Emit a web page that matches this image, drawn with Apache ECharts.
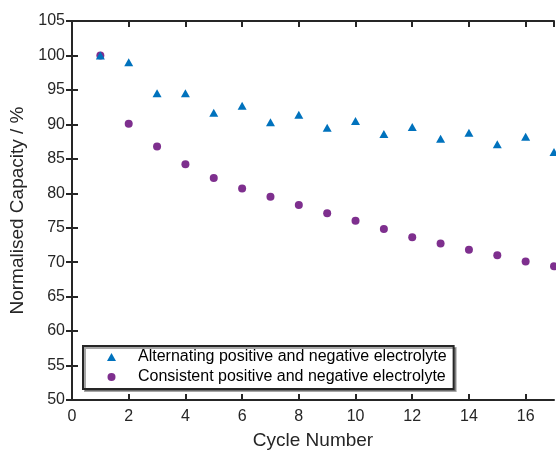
<!DOCTYPE html>
<html>
<head>
<meta charset="utf-8">
<script src="https://cdn.jsdelivr.net/npm/echarts@6/dist/echarts.min.js"></script>
<style>
html,body{margin:0;padding:0;background:#fff;}
#chart{width:556px;height:451px;}
</style>
</head>
<body>
<div id="chart"></div>
<script>
var cycles = [1,2,3,4,5,6,7,8,9,10,11,12,13,14,15,16,17];
var alternating = [100,99.0,94.5,94.5,91.7,92.7,90.3,91.4,89.5,90.5,88.6,89.6,87.9,88.8,87.1,88.2,86.0];
var consistent = [100,90.1,86.8,84.2,82.2,80.7,79.5,78.3,77.1,76.0,74.8,73.6,72.7,71.8,71.0,70.1,69.4];
var seriesNames = ['Alternating positive and negative electrolyte','Consistent positive and negative electrolyte'];
var xTitle = 'Cycle Number';
var yTitle = 'Normalised Capacity / %';

function pairs(xs, ys){ return xs.map(function(x,i){ return [x, ys[i]]; }); }

var axisColor = '#262626';
var font = 'Liberation Sans, Arial, sans-serif';
var chart = echarts.init(document.getElementById('chart'), null, {renderer:'canvas'});
var lineStyle = {color: axisColor, width: 2};
chart.setOption({
  animation: false,
  backgroundColor: '#fff',
  grid: {left: 72, top: 21, width: 482, height: 379, show: false, containLabel: false, outerBoundsMode: 'none'},
  xAxis: [{
    type: 'value', min: 0, max: 17, interval: 2, position: 'bottom',
    axisLine: {show: true, lineStyle: lineStyle},
    axisTick: {show: true, inside: true, length: 6, lineStyle: lineStyle},
    axisLabel: {color: axisColor, fontSize: 16, fontFamily: font, margin: 9, showMaxLabel: false},
    splitLine: {show: false},
    name: xTitle, nameLocation: 'middle', nameGap: 31,
    nameTextStyle: {color: axisColor, fontSize: 19, fontFamily: font}
  },{
    type: 'value', min: 0, max: 17, interval: 2, position: 'top',
    axisLine: {show: true, lineStyle: lineStyle},
    axisTick: {show: true, inside: true, length: 6, lineStyle: lineStyle},
    axisLabel: {show: false}, splitLine: {show: false}
  }],
  yAxis: [{
    type: 'value', min: 50, max: 105, interval: 5, position: 'left',
    axisLine: {show: true, lineStyle: lineStyle},
    axisTick: {show: true, inside: true, length: 6, lineStyle: lineStyle},
    axisLabel: {color: axisColor, fontSize: 16, fontFamily: font, margin: 7},
    splitLine: {show: false},
    name: yTitle, nameLocation: 'middle', nameGap: 41,
    nameTextStyle: {color: axisColor, fontSize: 19, fontFamily: font}
  },{
    type: 'value', min: 50, max: 105, interval: 5, position: 'right',
    axisLine: {show: true, lineStyle: lineStyle},
    axisTick: {show: true, inside: true, length: 6, lineStyle: lineStyle},
    axisLabel: {show: false}, splitLine: {show: false}
  }],
  legend: {
    orient: 'vertical', left: 83, top: 346,
    data: [{name: seriesNames[0], icon: 'triangle'}, {name: seriesNames[1], icon: 'circle'}],
    itemWidth: 9, itemHeight: 8, itemGap: 0,
    padding: [1, 7, 2, 24],
    backgroundColor: '#fff', borderColor: axisColor, borderWidth: 2, borderRadius: 0,
    shadowColor: 'rgba(0,0,0,0.35)', shadowBlur: 0, shadowOffsetX: 2, shadowOffsetY: 2,
    textStyle: {color: '#000', fontSize: 16, fontFamily: font, lineHeight: 20, padding: [0,0,0,17]}
  },
  series: [{
    name: seriesNames[0], type: 'scatter', symbol: 'triangle', symbolSize: [9, 8],
    itemStyle: {color: '#0072BD', opacity: 1},
    data: pairs(cycles, alternating), clip: false, z: 3
  },{
    name: seriesNames[1], type: 'scatter', symbol: 'circle', symbolSize: 8,
    itemStyle: {color: '#7E2F8E', opacity: 1},
    data: pairs(cycles, consistent), clip: false, z: 2
  }]
});
</script>
</body>
</html>
